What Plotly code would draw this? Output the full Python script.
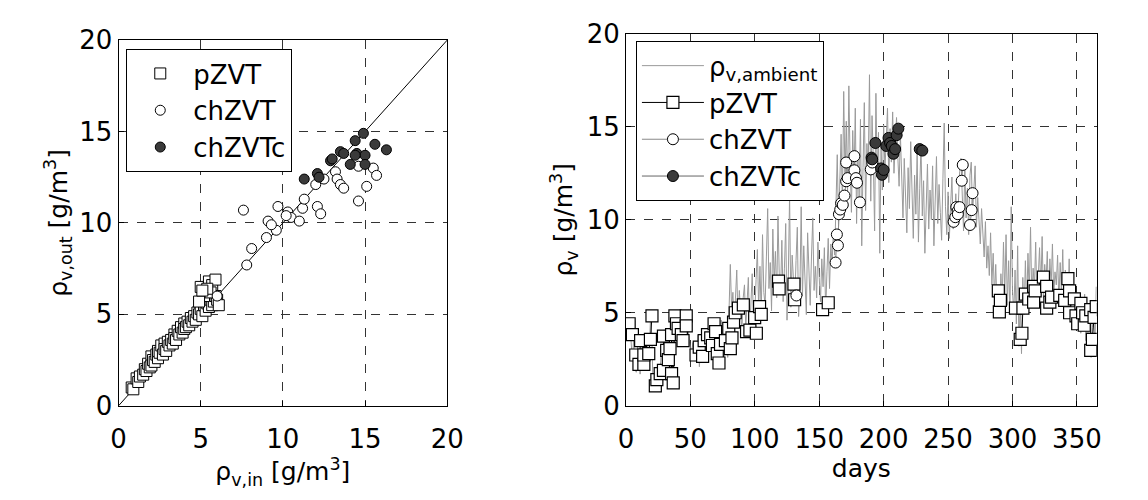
import plotly.graph_objects as go

# ---------------- Left panel data (inlet vs outlet vapour density) ----------------
pzvt_in = [0.8, 0.9, 1.1, 1.2, 1.3, 1.5, 1.6, 1.7, 1.8, 1.9, 2.0, 2.0, 2.1, 2.2, 2.3, 2.4, 2.4, 2.5, 2.6, 2.7,
           2.8, 2.8, 2.9, 3.0, 3.1, 3.2, 3.3, 3.4, 3.4, 3.5, 3.6, 3.7, 3.8, 3.9, 4.0, 4.0, 4.1, 4.2, 4.3, 4.4,
           4.5, 4.6, 4.7, 4.8, 4.9, 5.0, 5.1, 5.2, 5.3, 5.4, 5.5, 5.6, 5.7, 5.8, 5.9, 6.0, 5.0, 5.2, 5.5,
           5.7, 5.9, 5.6, 5.4, 6.1, 4.9, 5.1]
pzvt_out = [1.0, 0.9, 1.5, 1.3, 1.6, 1.7, 2.0, 1.9, 2.3, 2.1, 2.7, 2.2, 2.5, 2.4, 2.8, 2.6, 3.0, 2.9, 3.3, 2.8,
            3.4, 3.1, 3.0, 3.5, 3.3, 3.6, 3.4, 3.9, 3.7, 3.6, 4.1, 3.9, 4.3, 4.0, 4.5, 4.2, 4.3, 4.6, 4.4, 4.8,
            4.6, 4.9, 4.7, 5.1, 5.0, 5.3, 4.9, 5.5, 5.2, 5.6, 5.4, 5.8, 5.5, 5.7, 6.0, 5.8, 6.5, 6.0, 6.8,
            6.6, 6.9, 6.2, 6.4, 5.5, 5.7, 6.3]

chzvt_in = [6.0, 7.8, 8.1, 7.6, 9.0, 9.6, 9.1, 9.3, 9.7, 10.3, 10.5, 11.0, 11.2, 11.3, 12.1, 12.3,
            12.0, 12.5, 13.2, 13.3, 13.5, 13.7, 14.6, 14.6, 15.1, 15.5, 15.7, 10.2]
chzvt_out = [6.0, 7.7, 8.6, 10.7, 9.2, 9.6, 10.1, 9.9, 10.9, 10.6, 10.3, 10.1, 10.8, 11.3, 10.9, 10.5,
             12.1, 12.4, 12.8, 12.4, 12.1, 11.9, 11.2, 13.1, 12.0, 13.0, 12.6, 10.4]

chzvtc_in = [11.3, 12.1, 12.2, 12.9, 13.0, 13.5, 13.7, 14.4, 14.5, 14.9, 15.0, 15.0, 14.1, 15.6, 16.3, 14.4]
chzvtc_out = [12.4, 12.7, 12.5, 13.4, 13.5, 13.9, 13.8, 14.5, 13.8, 14.9, 13.7, 13.2, 13.2, 14.3, 14.0, 13.7]

diag = [0, 20]

# ---------------- Right panel data (time series) ----------------
ambient = [
    4.2, 3.8, 4.5, 3.1, 2.4, 3.6, 2.0, 1.8, 3.2, 2.5,
    1.7, 2.9, 3.4, 2.2, 2.6, 3.8, 3.1, 2.7, 4.6, 3.9,
    1.2, 0.8, 1.5, 1.1, 2.0, 1.6, 2.4, 3.3, 1.9, 2.8,
    3.6, 2.7, 3.1, 1.5, 1.2, 2.3, 3.9, 4.8, 4.3, 3.7,
    4.1, 3.6, 3.2, 4.4, 4.9, 3.4, 4.7, 4.2, 3.5, 3.0,
    2.9, 3.4, 2.6, 3.1, 2.4, 3.8, 2.1, 3.3, 2.8, 3.6,
    3.9, 3.0, 2.5, 4.2, 3.7, 2.9, 4.5, 3.4, 2.8, 3.2,
    4.0, 2.4, 3.1, 4.6, 3.5, 2.2, 3.9, 4.4, 2.6, 4.8,
    7.6, 5.2, 6.1, 4.3, 5.6, 7.3, 4.5, 6.2, 5.0, 4.1,
    5.8, 6.5, 4.2, 5.3, 6.9, 3.9, 5.5, 7.1, 4.6, 5.0,
    6.8, 8.4, 5.2, 7.5, 4.8, 9.2, 6.1, 5.4, 8.0, 10.6,
    6.3, 7.7, 5.1, 9.5, 6.6, 8.3, 5.8, 10.2, 7.0, 6.0,
    8.9, 5.6, 7.4, 9.8, 4.6, 6.9, 11.3, 5.3, 8.1, 6.4,
    5.5, 7.8, 9.6, 4.8, 6.2, 10.7, 5.9, 8.6, 7.1, 4.9,
    9.3, 6.7, 5.4, 8.0, 10.1, 6.2, 7.5, 5.8, 8.8, 6.9,
    5.6, 7.9, 6.4, 8.5, 5.1, 7.2, 9.0, 6.3, 8.7, 7.6,
    9.4, 8.1, 11.8, 13.5, 9.6, 12.4, 14.6, 10.8, 16.9, 12.2,
    15.3, 11.5, 17.2, 13.0, 10.4, 14.8, 12.1, 16.0, 9.8, 13.6,
    11.2, 15.4, 8.6, 12.8, 16.3, 10.5, 14.1, 12.6, 17.8, 11.0,
    15.6, 13.2, 9.4, 16.8, 12.3, 14.7, 8.2, 13.9, 11.6, 15.1,
    12.7, 14.3, 16.0, 12.0, 14.9, 13.1, 15.8, 12.5, 14.0, 15.5,
    13.4, 11.8, 14.6, 12.2, 10.1, 13.3, 11.4, 9.3, 12.8, 10.6,
    14.2, 11.0, 9.0, 12.4, 10.3, 13.6, 8.8, 11.7, 14.0, 10.2,
    12.1, 8.2, 10.8, 13.0, 9.5, 11.6, 10.0, 12.9, 8.6, 11.3,
    13.4, 9.8, 11.9, 10.4, 8.9, 12.2, 15.2, 10.7, 9.2, 11.5,
    9.0, 10.8, 12.3, 9.5, 10.2, 11.4, 9.7, 10.9, 12.6, 13.3,
    11.0, 9.4, 12.9, 10.1, 11.7, 9.2, 12.4, 13.1, 10.3, 11.8,
    12.9, 9.6, 11.2, 10.0, 8.7, 10.6, 9.1, 8.0, 9.9, 7.4,
    8.6, 7.0, 9.3, 6.5, 8.2, 5.8, 7.6, 5.2, 6.4, 4.8,
    7.1, 5.5, 8.8, 6.0, 9.2, 5.4, 7.8, 4.9, 10.7, 6.2,
    5.0, 7.3, 4.4, 8.6, 3.2, 5.6, 2.8, 6.9, 4.9, 7.8,
    5.3, 8.2, 6.0, 9.6, 5.7, 7.4, 6.3, 8.8, 5.4, 7.0,
    8.5, 6.2, 9.1, 5.8, 7.6, 6.6, 8.3, 5.5, 7.9, 6.4,
    8.7, 5.9, 7.2, 6.5, 8.1, 5.6, 7.7, 6.0, 8.4, 5.3,
    7.3, 6.1, 5.4, 7.9, 4.8, 6.7, 5.5, 6.2, 4.6, 5.9,
    4.3, 5.7, 3.9, 5.2, 4.5, 6.0, 3.5, 4.8, 3.0, 5.5,
    2.6, 4.2, 5.0, 3.3, 6.4]
ambient_days = list(range(1, len(ambient) + 1))

pzvt_days = [2, 2.5, 5, 7.6, 10.1, 11.4, 13.9, 13.9, 17.7, 19, 20.2, 22.8, 24, 26.6, 29.1, 29.1, 31.6, 32.9,
             34.2, 35.4, 35.4, 36.7, 38, 39.2, 40.5, 43, 44.3, 46.8, 46.8, 54.4, 56.9, 59.5, 60.7, 63.3, 65.8,
             67.1, 68.4, 69.6, 70.9, 72.2, 73.4, 77.2, 79.8, 81, 82.3, 83.5, 84.8, 87.3, 91.1, 93.6, 96.2, 99.9,
             101.2, 103.7, 105, 118.4, 118.9, 130.4, 130.9, 152.6, 157, 289, 289.8, 290.6, 302.3, 306, 307.3,
             308.1, 310, 312.6, 316.4, 316.4, 317.6, 324, 326.5, 326.5, 329, 330.3, 336.7, 340.5, 343, 344.3,
             344.3, 348, 349.3, 350.6, 353.1, 354.4, 355.7, 356.9, 360.7, 360.7, 362, 363.3, 365]
pzvt_vals = [4.2, 4.41, 3.82, 2.73, 2.23, 3.5, 2.23, 2.73, 2.8, 3.57, 4.83, 1.07, 1.4, 1.73, 1.9, 3.74, 2.98, 2.48,
             3.07, 1.73, 3.82, 1.23, 4.83, 4.41, 4.16, 3.82, 3.5, 4.83, 4.3, 2.73, 3.15, 2.65, 3.5, 3.82, 3.65,
             3.24, 4.41, 3.99, 2.8, 2.3, 3.3, 3.5, 4.16, 3.07, 3.65, 4.5, 5.0, 5.25, 5.42, 3.99, 4.07, 4.74,
             3.9, 5.33, 4.91, 6.7, 6.29, 6.54, 5.7, 5.17, 5.54, 6.18, 5.05, 5.67, 5.25, 3.57, 3.9,
             5.25, 6.0, 5.74, 6.42, 5.57, 6.18, 6.92, 6.42, 5.25, 5.57, 5.84, 5.93, 5.67, 6.84, 6.18,
             5.0, 5.75, 4.83, 4.41, 5.5, 5.0, 4.33, 4.83, 5.17, 2.98, 3.57, 4.75, 5.33]

chzvt_days = [132.3, 162.7, 163.7, 164.5, 165.3, 166.3, 167, 168.3, 169.6, 170.9, 170.9, 172.1, 177.3, 177.3,
              178.5, 179.3, 181.6, 190, 191.2, 254.3, 255.6, 256.4, 257.4, 257.6, 258.9, 260.6, 261.4, 267,
              268.3, 269]
chzvt_vals = [5.93, 7.7, 9.21, 8.62, 10.3, 10.55, 10.89, 10.8, 11.3, 12.07, 13.08, 12.24, 13.42, 12.66,
              12.24, 11.99, 10.94, 12.71, 13.08, 9.89, 10.14, 10.68, 10.47, 10.3, 10.68, 12.1, 12.95, 9.72,
              10.52, 11.43]

chzvtc_days = [190.6, 191.1, 193.6, 198, 198.7, 200, 202, 203.8, 205, 206.3, 207.6, 208.9, 210.1, 211.4, 228, 230]
chzvtc_vals = [13.34, 13.25, 14.13, 12.76, 12.42, 12.68, 13.97, 14.4, 14.13, 13.97, 13.55, 13.8, 14.55, 14.9,
               13.8, 13.72]


def with_gaps(xs, ys, maxgap):
    gx, gy = [], []
    for i, (x, y) in enumerate(zip(xs, ys)):
        if i > 0 and x - xs[i - 1] > maxgap:
            gx.append(None)
            gy.append(None)
        gx.append(x)
        gy.append(y)
    return gx, gy


FONT = "DejaVu Sans"
DARK = "#3a3a3a"
TICK_SIZE = 26
TITLE_SIZE = 25
LEG_SIZE = 26

fig = go.Figure()

# ---- left panel ----
fig.add_trace(go.Scatter(x=diag, y=diag, mode="lines", line=dict(color="black", width=1),
                         showlegend=False, xaxis="x", yaxis="y", hoverinfo="skip"))
fig.add_trace(go.Scatter(x=pzvt_in, y=pzvt_out, mode="markers", name="pZVT",
                         marker=dict(symbol="square", size=11, color="white", line=dict(color="black", width=1)),
                         xaxis="x", yaxis="y", legend="legend"))
fig.add_trace(go.Scatter(x=chzvt_in, y=chzvt_out, mode="markers", name="chZVT",
                         marker=dict(symbol="circle", size=10, color="white", line=dict(color="black", width=1)),
                         xaxis="x", yaxis="y", legend="legend"))
fig.add_trace(go.Scatter(x=chzvtc_in, y=chzvtc_out, mode="markers", name="chZVTc",
                         marker=dict(symbol="circle", size=10, color=DARK, line=dict(color="black", width=1)),
                         xaxis="x", yaxis="y", legend="legend"))

# ---- right panel ----
fig.add_trace(go.Scatter(x=ambient_days, y=ambient, mode="lines", name="ρ<sub>v,ambient</sub>",
                         line=dict(color="#9a9a9a", width=1), xaxis="x2", yaxis="y2",
                         legend="legend2"))
px, py = with_gaps(pzvt_days, pzvt_vals, 1.5)
fig.add_trace(go.Scatter(x=px, y=py, mode="lines+markers", name="pZVT",
                         line=dict(color="black", width=1),
                         marker=dict(symbol="square", size=12, color="white", line=dict(color="black", width=1.2)),
                         xaxis="x2", yaxis="y2", legend="legend2"))
cx, cy = with_gaps(chzvt_days, chzvt_vals, 1.5)
fig.add_trace(go.Scatter(x=cx, y=cy, mode="lines+markers", name="chZVT",
                         line=dict(color="#888888", width=1),
                         marker=dict(symbol="circle", size=11, color="white", line=dict(color="black", width=1)),
                         xaxis="x2", yaxis="y2", legend="legend2"))
dx, dy = with_gaps(chzvtc_days, chzvtc_vals, 1.5)
fig.add_trace(go.Scatter(x=dx, y=dy, mode="lines+markers", name="chZVTc",
                         line=dict(color="#666666", width=1),
                         marker=dict(symbol="circle", size=11, color=DARK, line=dict(color="black", width=1)),
                         xaxis="x2", yaxis="y2", legend="legend2"))

W, H = 1148, 500
ydom_l = [1 - 415.7 / H, 1 - 26.7 / H]
ydom_r = [1 - 415.7 / H, 1 - 20.0 / H]

axis_common = dict(showline=True, linecolor="black", linewidth=1, mirror=True,
                   ticks="inside", ticklen=5, tickcolor="black",
                   showgrid=True, gridcolor="#333333", griddash="dash", gridwidth=1,
                   zeroline=False, tickfont=dict(family=FONT, size=TICK_SIZE, color="black"))

fig.update_layout(
    width=W, height=H,
    margin=dict(l=0, r=0, t=0, b=0),
    paper_bgcolor="white", plot_bgcolor="white",
    font=dict(family=FONT, color="black"),
    xaxis=dict(domain=[113 / W, 449 / W], range=[0, 20], tickvals=[0, 5, 10, 15, 20],
               anchor="y", ticklabelstandoff=10,
               title=dict(text="ρ<sub>v,in</sub> [g/m<sup>3</sup>]",
                          font=dict(family=FONT, size=TITLE_SIZE), standoff=2),
               **axis_common),
    yaxis=dict(domain=ydom_l, range=[0, 20], tickvals=[0, 5, 10, 15, 20], anchor="x",
               title=dict(text="ρ<sub>v,out</sub> [g/m<sup>3</sup>]",
                          font=dict(family=FONT, size=TITLE_SIZE), standoff=4),
               **axis_common),
    xaxis2=dict(domain=[631.7 / W, 1113 / W], range=[0, 365.4],
                tickvals=[0, 50, 100, 150, 200, 250, 300, 350], anchor="y2", ticklabelstandoff=10,
                title=dict(text="days", font=dict(family=FONT, size=TITLE_SIZE), standoff=0),
                **axis_common),
    yaxis2=dict(domain=ydom_r, range=[0, 20], tickvals=[0, 5, 10, 15, 20], anchor="x2",
                title=dict(text="ρ<sub>v</sub> [g/m<sup>3</sup>]",
                           font=dict(family=FONT, size=TITLE_SIZE), standoff=6),
                **axis_common),
    legend=dict(x=120.7 / W, y=1 - 36 / H, xanchor="left", yanchor="top",
                bgcolor="white", bordercolor="black", borderwidth=1.2,
                font=dict(family=FONT, size=LEG_SIZE, color="black"), tracegroupgap=0,
                itemwidth=56),
    legend2=dict(x=641.7 / W, y=1 - 27.7 / H, xanchor="left", yanchor="top",
                 bgcolor="white", bordercolor="black", borderwidth=1.2,
                 font=dict(family=FONT, size=LEG_SIZE, color="black"), tracegroupgap=0,
                 itemwidth=62),
    showlegend=True,
)

fig.write_html("out.html")
